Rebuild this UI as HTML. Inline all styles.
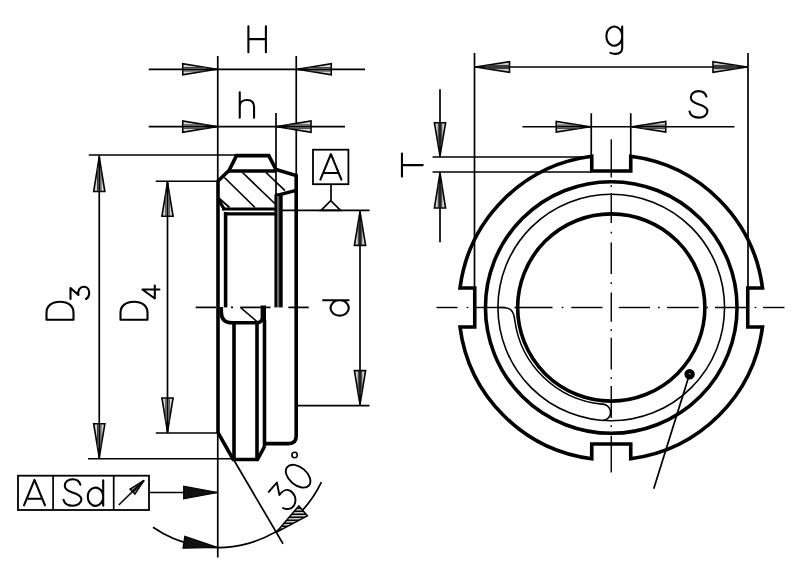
<!DOCTYPE html>
<html><head><meta charset="utf-8"><title>Lock nut drawing</title>
<style>html,body{margin:0;padding:0;background:#fff;}body{width:800px;height:576px;overflow:hidden;font-family:"Liberation Sans",sans-serif;}svg{display:block;}</style>
</head><body>
<svg width="800" height="576" viewBox="0 0 800 576" stroke="#000" fill="none" stroke-linecap="butt">
<defs><pattern id="hh" width="6" height="3" patternUnits="userSpaceOnUse"><rect x="0" y="0" width="6" height="3" fill="#fff" stroke="none"/><rect x="0" y="0.4" width="6" height="1.8" fill="#000" stroke="none"/></pattern></defs>
<rect x="0" y="0" width="800" height="576" fill="#fff" stroke="none"/>
<line x1="217.75" y1="56" x2="217.75" y2="181" stroke-width="1.7" />
<line x1="217.75" y1="433" x2="217.75" y2="557.5" stroke-width="1.7" />
<line x1="296.25" y1="56" x2="296.25" y2="176" stroke-width="1.7" />
<line x1="276" y1="113" x2="276" y2="195" stroke-width="1.7" />
<line x1="148.75" y1="69.3" x2="365" y2="69.3" stroke-width="1.7" />
<polygon points="216.55,69.30 182.75,63.70 182.75,74.90" fill="#d6d6d6" stroke-width="1.6" stroke-linejoin="miter"/>
<line x1="182.75" y1="70.98" x2="206.41" y2="70.98" stroke-width="1.05" stroke="#333"/>
<line x1="182.75" y1="67.62" x2="206.41" y2="67.62" stroke-width="1.05" stroke="#333"/>
<line x1="182.75" y1="69.30" x2="216.55" y2="69.30" stroke-width="1.7"/>
<polygon points="297.45,69.30 331.25,74.90 331.25,63.70" fill="#d6d6d6" stroke-width="1.6" stroke-linejoin="miter"/>
<line x1="331.25" y1="67.62" x2="307.59" y2="67.62" stroke-width="1.05" stroke="#333"/>
<line x1="331.25" y1="70.98" x2="307.59" y2="70.98" stroke-width="1.05" stroke="#333"/>
<line x1="331.25" y1="69.30" x2="297.45" y2="69.30" stroke-width="1.7"/>
<line x1="148.75" y1="126.6" x2="345" y2="126.6" stroke-width="1.7" />
<polygon points="216.55,126.60 182.75,121.00 182.75,132.20" fill="#d6d6d6" stroke-width="1.6" stroke-linejoin="miter"/>
<line x1="182.75" y1="128.28" x2="206.41" y2="128.28" stroke-width="1.05" stroke="#333"/>
<line x1="182.75" y1="124.92" x2="206.41" y2="124.92" stroke-width="1.05" stroke="#333"/>
<line x1="182.75" y1="126.60" x2="216.55" y2="126.60" stroke-width="1.7"/>
<polygon points="277.20,126.60 311.00,132.20 311.00,121.00" fill="#d6d6d6" stroke-width="1.6" stroke-linejoin="miter"/>
<line x1="311.00" y1="124.92" x2="287.34" y2="124.92" stroke-width="1.05" stroke="#333"/>
<line x1="311.00" y1="128.28" x2="287.34" y2="128.28" stroke-width="1.05" stroke="#333"/>
<line x1="311.00" y1="126.60" x2="277.20" y2="126.60" stroke-width="1.7"/>
<line x1="88.75" y1="155" x2="237" y2="155" stroke-width="1.7" />
<line x1="88" y1="458.75" x2="233" y2="458.75" stroke-width="1.7" />
<line x1="99.25" y1="155" x2="99.25" y2="458.75" stroke-width="1.7" />
<polygon points="99.25,157.20 93.65,191.50 104.85,191.50" fill="#d6d6d6" stroke-width="1.6" stroke-linejoin="miter"/>
<line x1="100.93" y1="191.50" x2="100.93" y2="167.49" stroke-width="1.05" stroke="#333"/>
<line x1="97.57" y1="191.50" x2="97.57" y2="167.49" stroke-width="1.05" stroke="#333"/>
<line x1="99.25" y1="191.50" x2="99.25" y2="157.20" stroke-width="1.7"/>
<polygon points="99.25,457.55 104.85,423.75 93.65,423.75" fill="#d6d6d6" stroke-width="1.6" stroke-linejoin="miter"/>
<line x1="97.57" y1="423.75" x2="97.57" y2="447.41" stroke-width="1.05" stroke="#333"/>
<line x1="100.93" y1="423.75" x2="100.93" y2="447.41" stroke-width="1.05" stroke="#333"/>
<line x1="99.25" y1="423.75" x2="99.25" y2="457.55" stroke-width="1.7"/>
<line x1="155.75" y1="181.25" x2="218" y2="181.25" stroke-width="1.7" />
<line x1="155.75" y1="433" x2="218" y2="433" stroke-width="1.7" />
<line x1="167.5" y1="181.25" x2="167.5" y2="433" stroke-width="1.7" />
<polygon points="167.50,182.45 161.90,216.25 173.10,216.25" fill="#d6d6d6" stroke-width="1.6" stroke-linejoin="miter"/>
<line x1="169.18" y1="216.25" x2="169.18" y2="192.59" stroke-width="1.05" stroke="#333"/>
<line x1="165.82" y1="216.25" x2="165.82" y2="192.59" stroke-width="1.05" stroke="#333"/>
<line x1="167.50" y1="216.25" x2="167.50" y2="182.45" stroke-width="1.7"/>
<polygon points="167.50,431.80 173.10,398.00 161.90,398.00" fill="#d6d6d6" stroke-width="1.6" stroke-linejoin="miter"/>
<line x1="165.82" y1="398.00" x2="165.82" y2="421.66" stroke-width="1.05" stroke="#333"/>
<line x1="169.18" y1="398.00" x2="169.18" y2="421.66" stroke-width="1.05" stroke="#333"/>
<line x1="167.50" y1="398.00" x2="167.50" y2="431.80" stroke-width="1.7"/>
<line x1="277" y1="210.4" x2="369.6" y2="210.4" stroke-width="1.7" />
<line x1="297" y1="405.6" x2="369.5" y2="405.6" stroke-width="1.7" />
<line x1="360" y1="210.4" x2="360" y2="405.6" stroke-width="1.7" />
<polygon points="360.00,211.60 354.40,245.40 365.60,245.40" fill="#d6d6d6" stroke-width="1.6" stroke-linejoin="miter"/>
<line x1="361.68" y1="245.40" x2="361.68" y2="221.74" stroke-width="1.05" stroke="#333"/>
<line x1="358.32" y1="245.40" x2="358.32" y2="221.74" stroke-width="1.05" stroke="#333"/>
<line x1="360.00" y1="245.40" x2="360.00" y2="211.60" stroke-width="1.7"/>
<polygon points="360.00,404.40 365.60,370.60 354.40,370.60" fill="#d6d6d6" stroke-width="1.6" stroke-linejoin="miter"/>
<line x1="358.32" y1="370.60" x2="358.32" y2="394.26" stroke-width="1.05" stroke="#333"/>
<line x1="361.68" y1="370.60" x2="361.68" y2="394.26" stroke-width="1.05" stroke="#333"/>
<line x1="360.00" y1="370.60" x2="360.00" y2="404.40" stroke-width="1.7"/>
<rect x="313" y="149.7" width="35.4" height="34.5" fill="none" stroke-width="1.8"/>
<line x1="331" y1="184.2" x2="331" y2="200.5" stroke-width="1.7" />
<path d="M330.8,200.6 L321,210.4 H340.6 Z" stroke-width="1.7" fill="none"/>
<line x1="195.7" y1="307.4" x2="216" y2="307.4" stroke-width="1.7" />
<line x1="231" y1="307.4" x2="233" y2="307.4" stroke-width="1.7" />
<line x1="240.4" y1="307.4" x2="270.5" y2="307.4" stroke-width="1.7" />
<line x1="288.4" y1="307.4" x2="308.7" y2="307.4" stroke-width="1.7" />
<path d="M218,433 V181 L229,170.5 L236.5,155.6 H268.75 L276,169.5 L296.2,175.5 V436 Q296.2,443.6 288.5,443.6 H264.5" stroke-width="3.6" fill="none" stroke-linejoin="miter"/>
<line x1="228.5" y1="171" x2="276.5" y2="171" stroke-width="3.6" />
<path d="M296.2,190.3 L280.6,194.3 L275.7,195.3" stroke-width="3.4" fill="none"/>
<line x1="275.7" y1="194.5" x2="275.7" y2="307.4" stroke-width="2.6" />
<rect x="276.9" y="196" width="2.4" height="111.4" fill="#666" stroke="none"/>
<line x1="280.9" y1="194" x2="280.9" y2="307.4" stroke-width="3.6" />
<path d="M218,198.5 L224.6,210 " stroke-width="3.3" fill="none"/>
<line x1="225.6" y1="212" x2="225.6" y2="307.4" stroke-width="3.6" />
<line x1="222" y1="209" x2="277" y2="209" stroke-width="3.1" />
<line x1="224.5" y1="213.9" x2="277" y2="213.9" stroke-width="3.4" />
<line x1="224.4" y1="177.5" x2="255" y2="207.5" stroke-width="1.7" />
<line x1="242.5" y1="172.5" x2="275" y2="203.75" stroke-width="1.7" />
<line x1="266" y1="172.5" x2="285" y2="190.6" stroke-width="1.7" />
<line x1="218.75" y1="198" x2="229.5" y2="207.5" stroke-width="1.7" />
<path d="M221.3,307 V312 Q221.3,322.8 232,322.8 H256 Q263.3,322.8 263.3,315 V307" stroke-width="3.6" fill="none"/>
<line x1="263.3" y1="305.5" x2="263.3" y2="322" stroke-width="5.4" />
<line x1="234" y1="322.8" x2="234" y2="459.5" stroke-width="3.6" />
<line x1="257" y1="322.8" x2="257" y2="459.5" stroke-width="3.6" />
<line x1="264.5" y1="320" x2="264.5" y2="446" stroke-width="3.6" />
<path d="M218,432.6 L233.2,459.5 H257.5 L264.8,446" stroke-width="3.6" fill="none" stroke-linejoin="miter"/>
<line x1="240.4" y1="307.4" x2="257.5" y2="322" stroke-width="1.4" />
<line x1="218" y1="433" x2="283" y2="543.75" stroke-width="1.7" />
<path d="M152.98,527.25 A114.5,114.5 0 0 0 321.39,482.20" stroke-width="1.7" fill="none"/>
<polygon points="218.00,547.50 184.79,536.38 182.99,548.24" fill="#111" stroke-width="1.2"/>
<polygon points="276.3,532.3 298.85,505.85 307.4,515.8" fill="url(#hh)" stroke-width="1.5" stroke-linejoin="miter"/>
<line x1="149.25" y1="492.5" x2="218" y2="492.5" stroke-width="1.7" />
<polygon points="218.00,492.50 183.70,486.20 183.70,498.80" fill="#111" stroke-width="1.2"/>
<rect x="18" y="475.7" width="131" height="34.3" fill="none" stroke-width="1.8"/>
<line x1="53.1" y1="475.7" x2="53.1" y2="510" stroke-width="1.7" />
<line x1="113.7" y1="475.7" x2="113.7" y2="510" stroke-width="1.7" />
<line x1="118.75" y1="505" x2="144" y2="480.4" stroke-width="1.5" />
<polygon points="144.00,480.40 130.17,489.13 134.91,494.00" fill="#d6d6d6" stroke-width="1.6" stroke-linejoin="miter"/>
<line x1="133.25" y1="492.30" x2="141.27" y2="484.48" stroke-width="1.05" stroke="#333"/>
<line x1="131.83" y1="490.83" x2="139.85" y2="483.02" stroke-width="1.05" stroke="#333"/>
<line x1="132.54" y1="491.57" x2="144.00" y2="480.40" stroke-width="1.7"/>
<path d="M762.50,327.00 A152.5,152.5 0 0 1 630.75,458.75 L630.75,444.00 L591.75,444.00 L591.75,458.75 A152.5,152.5 0 0 1 460.00,327.00 L474.75,327.00 L474.75,288.00 L460.00,288.00 A152.5,152.5 0 0 1 591.75,156.25 L591.75,171.00 L630.75,171.00 L630.75,156.25 A152.5,152.5 0 0 1 762.50,288.00 L747.75,288.00 L747.75,327.00 L762.50,327.00 Z" stroke-width="3.6" fill="none" stroke-linejoin="miter"/>
<circle cx="611.25" cy="307.5" r="125.8" fill="none" stroke-width="3.6"/>
<circle cx="611.25" cy="307.5" r="113.3" fill="none" stroke-width="1.6"/>
<circle cx="611.25" cy="307.5" r="93.6" fill="none" stroke-width="3.6"/>
<path d="M497.95,307.5 H503 C511,307.5 513.6,311.5 514.75,320 A97.1,97.1 0 0 0 601.77,404.14 A7.9,7.9 0 0 1 602.95,420.50" stroke-width="1.6" fill="none"/>
<circle cx="689.6" cy="374.3" r="5.2" fill="#000" stroke="none"/>
<circle cx="689.6" cy="374.0" r="1.1" fill="#999" stroke="none"/>
<line x1="689.5" y1="374.3" x2="653.75" y2="488.75" stroke-width="1.7" />
<line x1="436.5" y1="307.5" x2="457.5" y2="307.5" stroke-width="1.4" />
<line x1="466.7" y1="307.5" x2="468.4" y2="307.5" stroke-width="1.4" />
<line x1="476" y1="307.5" x2="506" y2="307.5" stroke-width="1.4" />
<line x1="514.5" y1="307.5" x2="516" y2="307.5" stroke-width="1.4" />
<line x1="519" y1="307.5" x2="552.5" y2="307.5" stroke-width="1.4" />
<line x1="561.7" y1="307.5" x2="563.4" y2="307.5" stroke-width="1.4" />
<line x1="571.25" y1="307.5" x2="602.5" y2="307.5" stroke-width="1.4" />
<line x1="618.75" y1="307.5" x2="650" y2="307.5" stroke-width="1.4" />
<line x1="658" y1="307.5" x2="659.7" y2="307.5" stroke-width="1.4" />
<line x1="667" y1="307.5" x2="698.75" y2="307.5" stroke-width="1.4" />
<line x1="706.5" y1="307.5" x2="708" y2="307.5" stroke-width="1.4" />
<line x1="715" y1="307.5" x2="747.5" y2="307.5" stroke-width="1.4" />
<line x1="754.7" y1="307.5" x2="756.4" y2="307.5" stroke-width="1.4" />
<line x1="763" y1="307.5" x2="784.5" y2="307.5" stroke-width="1.4" />
<line x1="611.25" y1="139.25" x2="611.25" y2="177.5" stroke-width="1.4" />
<line x1="611.25" y1="185.2" x2="611.25" y2="186.9" stroke-width="1.4" />
<line x1="611.25" y1="193" x2="611.25" y2="223" stroke-width="1.4" />
<line x1="611.25" y1="231.7" x2="611.25" y2="233.4" stroke-width="1.4" />
<line x1="611.25" y1="242.5" x2="611.25" y2="274" stroke-width="1.4" />
<line x1="611.25" y1="282.3" x2="611.25" y2="284" stroke-width="1.4" />
<line x1="611.25" y1="292.5" x2="611.25" y2="321.7" stroke-width="1.4" />
<line x1="611.25" y1="329.2" x2="611.25" y2="330.9" stroke-width="1.4" />
<line x1="611.25" y1="337.8" x2="611.25" y2="369.4" stroke-width="1.4" />
<line x1="611.25" y1="377.3" x2="611.25" y2="379" stroke-width="1.4" />
<line x1="611.25" y1="386" x2="611.25" y2="418" stroke-width="1.4" />
<line x1="611.25" y1="425.3" x2="611.25" y2="427" stroke-width="1.4" />
<line x1="611.25" y1="435.8" x2="611.25" y2="472.5" stroke-width="1.4" />
<line x1="474.5" y1="53" x2="474.5" y2="288" stroke-width="1.7" />
<line x1="748" y1="53" x2="748" y2="288" stroke-width="1.7" />
<line x1="474.5" y1="67" x2="748" y2="67" stroke-width="1.7" />
<polygon points="475.70,67.00 509.50,72.30 509.50,61.70" fill="#d6d6d6" stroke-width="1.6" stroke-linejoin="miter"/>
<line x1="509.50" y1="65.41" x2="485.84" y2="65.41" stroke-width="1.05" stroke="#333"/>
<line x1="509.50" y1="68.59" x2="485.84" y2="68.59" stroke-width="1.05" stroke="#333"/>
<line x1="509.50" y1="67.00" x2="475.70" y2="67.00" stroke-width="1.7"/>
<polygon points="746.80,67.00 713.00,61.70 713.00,72.30" fill="#d6d6d6" stroke-width="1.6" stroke-linejoin="miter"/>
<line x1="713.00" y1="68.59" x2="736.66" y2="68.59" stroke-width="1.05" stroke="#333"/>
<line x1="713.00" y1="65.41" x2="736.66" y2="65.41" stroke-width="1.05" stroke="#333"/>
<line x1="713.00" y1="67.00" x2="746.80" y2="67.00" stroke-width="1.7"/>
<line x1="591.25" y1="113.25" x2="591.25" y2="157" stroke-width="1.7" />
<line x1="630.75" y1="113.25" x2="630.75" y2="157" stroke-width="1.7" />
<line x1="522.5" y1="126.75" x2="734.5" y2="126.75" stroke-width="1.7" />
<polygon points="590.05,126.75 556.25,121.45 556.25,132.05" fill="#d6d6d6" stroke-width="1.6" stroke-linejoin="miter"/>
<line x1="556.25" y1="128.34" x2="579.91" y2="128.34" stroke-width="1.05" stroke="#333"/>
<line x1="556.25" y1="125.16" x2="579.91" y2="125.16" stroke-width="1.05" stroke="#333"/>
<line x1="556.25" y1="126.75" x2="590.05" y2="126.75" stroke-width="1.7"/>
<polygon points="631.95,126.75 665.75,132.05 665.75,121.45" fill="#d6d6d6" stroke-width="1.6" stroke-linejoin="miter"/>
<line x1="665.75" y1="125.16" x2="642.09" y2="125.16" stroke-width="1.05" stroke="#333"/>
<line x1="665.75" y1="128.34" x2="642.09" y2="128.34" stroke-width="1.05" stroke="#333"/>
<line x1="665.75" y1="126.75" x2="631.95" y2="126.75" stroke-width="1.7"/>
<line x1="432.5" y1="157" x2="591" y2="157" stroke-width="1.7" />
<line x1="432.5" y1="172" x2="591" y2="172" stroke-width="1.7" />
<line x1="440" y1="89.25" x2="440" y2="157" stroke-width="1.7" />
<line x1="440" y1="172" x2="440" y2="242.2" stroke-width="1.7" />
<polygon points="440.00,155.80 445.60,122.70 434.40,122.70" fill="#d6d6d6" stroke-width="1.6" stroke-linejoin="miter"/>
<line x1="438.32" y1="122.70" x2="438.32" y2="145.87" stroke-width="1.05" stroke="#333"/>
<line x1="441.68" y1="122.70" x2="441.68" y2="145.87" stroke-width="1.05" stroke="#333"/>
<line x1="440.00" y1="122.70" x2="440.00" y2="155.80" stroke-width="1.7"/>
<polygon points="440.00,173.20 434.40,208.00 445.60,208.00" fill="#d6d6d6" stroke-width="1.6" stroke-linejoin="miter"/>
<line x1="441.68" y1="208.00" x2="441.68" y2="183.64" stroke-width="1.05" stroke="#333"/>
<line x1="438.32" y1="208.00" x2="438.32" y2="183.64" stroke-width="1.05" stroke="#333"/>
<line x1="440.00" y1="208.00" x2="440.00" y2="173.20" stroke-width="1.7"/>
<path d="M0,0 V-26 M17.5,0 V-26 M0,-13.2 H17.5" transform="translate(248.4,52.3) rotate(0)" stroke-width="2.1" fill="none" stroke-linecap="round" stroke-linejoin="round"/>
<path d="M0,0 V-25.5 M0,-11.5 C0,-15.5 3,-17.8 7.2,-17.8 C11.5,-17.8 14.3,-15.5 14.3,-11 V0" transform="translate(239.75,117.8) rotate(0)" stroke-width="2.1" fill="none" stroke-linecap="round" stroke-linejoin="round"/>
<path d="M16.6,-9.5 A7.9,9.5 0 1 0 16.6,-9.4 M16.6,-19 V2.5 C16.6,6.5 13.5,8.3 9.8,8.3 C7.8,8.3 6,7.9 4.8,7.3" transform="translate(605.6,45.6) rotate(0)" stroke-width="2.1" fill="none" stroke-linecap="round" stroke-linejoin="round"/>
<path d="M17.4,-21 C16.5,-24.5 13.3,-26.5 9.5,-26.5 C5.2,-26.5 1.8,-24 1.8,-20 C1.8,-16 5.2,-14.5 9.5,-13.3 C13.8,-12 18.4,-10.5 18.4,-6.5 C18.4,-2.5 14.6,0 9.8,0 C4.8,0 1.4,-2.3 0.5,-6" transform="translate(689,117.6) rotate(0)" stroke-width="2.1" fill="none" stroke-linecap="round" stroke-linejoin="round"/>
<path d="M0,0 L10.5,-25.5 L21,0 M3.4,-6.6 H17.6" transform="translate(320.4,179.6) rotate(0)" stroke-width="2.1" fill="none" stroke-linecap="round" stroke-linejoin="round"/>
<path d="M0,0 L10.5,-25.5 L21,0 M3.4,-6.6 H17.6" transform="translate(24,505.4) rotate(0)" stroke-width="2.1" fill="none" stroke-linecap="round" stroke-linejoin="round"/>
<path d="M17.4,-21 C16.5,-24.5 13.3,-26.5 9.5,-26.5 C5.2,-26.5 1.8,-24 1.8,-20 C1.8,-16 5.2,-14.5 9.5,-13.3 C13.8,-12 18.4,-10.5 18.4,-6.5 C18.4,-2.5 14.6,0 9.8,0 C4.8,0 1.4,-2.3 0.5,-6" transform="translate(63,505.7) rotate(0)" stroke-width="2.1" fill="none" stroke-linecap="round" stroke-linejoin="round"/>
<path d="M15.4,-9 A7.7,9 0 1 0 15.4,-8.9 M15.4,-25.5 V0" transform="translate(87.8,505.7) rotate(0)" stroke-width="2.1" fill="none" stroke-linecap="round" stroke-linejoin="round"/>
<path d="M0,-20.8 H23 M11.5,-20.8 V0" transform="translate(422.75,176.6) rotate(-90)" stroke-width="2.1" fill="none" stroke-linecap="round" stroke-linejoin="round"/>
<path d="M15.4,-9 A7.7,9 0 1 0 15.4,-8.9 M15.4,-25.5 V0" transform="translate(348.6,315.6) rotate(-90)" stroke-width="2.1" fill="none" stroke-linecap="round" stroke-linejoin="round"/>
<path d="M0,0 V-27 H7 C14,-27 18,-21.5 18,-13.5 C18,-5.5 14,0 7,0 Z" transform="translate(73.5,319.8) rotate(-90)" stroke-width="2.1" fill="none" stroke-linecap="round" stroke-linejoin="round"/>
<path d="M0,0 V-27 H7 C14,-27 18,-21.5 18,-13.5 C18,-5.5 14,0 7,0 Z" transform="translate(147.5,319.8) rotate(-90)" stroke-width="2.1" fill="none" stroke-linecap="round" stroke-linejoin="round"/>
<path d="M0,-18.5 H11 L4,-10.6 C9,-11.6 12.2,-9 12.2,-5.2 C12.2,-1.5 9.5,0.2 6,0.2 C3.5,0.2 1.2,-0.8 0,-3" transform="translate(89,299) rotate(-90)" stroke-width="2.1" fill="none" stroke-linecap="round" stroke-linejoin="round"/>
<path d="M9,0 V-17 L0,-4.6 H13" transform="translate(159.4,298.5) rotate(-90)" stroke-width="2.1" fill="none" stroke-linecap="round" stroke-linejoin="round"/>
<path d="M268.75,491.9 L276.9,482.5 L279.4,495 C282,491.2 286,489 289.3,490.4 C294.2,492.4 297.2,499 294.3,504.8 C291.8,509.6 286.5,509.8 283,508" stroke-width="1.9" fill="none" stroke-linecap="round" stroke-linejoin="round"/>
<ellipse cx="298.1" cy="476.2" rx="14.2" ry="8.9" transform="rotate(40 298.1 476.2)" fill="none" stroke-width="1.9"/>
<circle cx="294.6" cy="455" r="2.7" fill="none" stroke-width="1.6"/>
</svg>
</body></html>
